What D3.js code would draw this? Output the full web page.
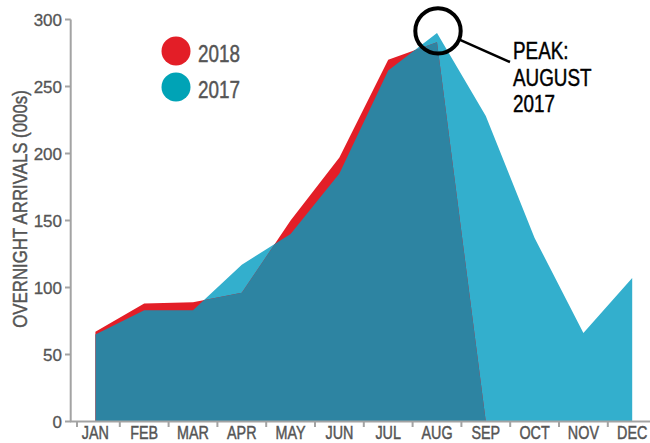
<!DOCTYPE html>
<html>
<head>
<meta charset="utf-8">
<script src="https://cdn.jsdelivr.net/npm/d3@7"></script>
<style>
  html, body { margin: 0; padding: 0; background: #fff; }
  svg { display: block; }
  text { font-family: "Liberation Sans", Arial, sans-serif; }
</style>
</head>
<body>
<svg id="chart" width="650" height="443"></svg>
<script>
const months = ["JAN","FEB","MAR","APR","MAY","JUN","JUL","AUG","SEP","OCT","NOV","DEC"];
const values2018 = [67, 88, 89, 96, 150, 197, 270, 283, 0];
const values2017 = [65, 83, 83, 117, 140, 185, 262, 290, 228, 137, 66, 107];
const yTicks = [0, 50, 100, 150, 200, 250, 300];
const seriesNames = ["2018", "2017"];
const yTitle = "OVERNIGHT ARRIVALS (000s)";
const annotationLines = ["PEAK:", "AUGUST", "2017"];
const peakMonth = "AUG";

const colors = { red: "#e31e27", light: "#33afcd", dark: "#2d84a2", legend2017: "#00a3b6", axis: "#a3a3a3", text: "#555555" };
const NARROW = 0.82;

const svg = d3.select("#chart");
const x = d3.scaleBand().domain(months).range([71, 656.6]).padding(0);
const y = d3.scaleLinear().domain([0, 300]).range([421.5, 19.5]);
const cx = m => x(m) + x.bandwidth() / 2;

function narrowText(g, tx, ty, txt, size, fill, anchor, rot) {
  return g.append("text")
    .attr("transform", `translate(${tx},${ty})${rot ? " rotate(" + rot + ")" : ""} scale(${NARROW},1)`)
    .attr("text-anchor", anchor || "start")
    .attr("font-size", size).attr("fill", fill)
    .attr("stroke", fill).attr("stroke-width", 0.45)
    .text(txt);
}

const d2018 = values2018.map((v, i) => ({ m: months[i], v }));
const d2017 = values2017.map((v, i) => ({ m: months[i], v }));

const area = d3.area().x(d => cx(d.m)).y0(y(0)).y1(d => y(d.v));

const defs = svg.append("defs");
defs.append("clipPath").attr("id", "clip2017").append("path").attr("d", area(d2017));

svg.append("path").attr("d", area(d2017)).attr("fill", colors.light);
svg.append("path").attr("d", area(d2018)).attr("fill", colors.red);
svg.append("path").attr("d", area(d2018)).attr("fill", colors.dark).attr("clip-path", "url(#clip2017)");

// Y axis
const gy = svg.append("g");
gy.append("line").attr("x1", 70.7).attr("x2", 70.7).attr("y1", y(300)).attr("y2", y(0))
  .attr("stroke", colors.axis).attr("stroke-width", 2);
yTicks.forEach(t => {
  gy.append("line").attr("x1", 65).attr("x2", 70.7).attr("y1", y(t)).attr("y2", y(t))
    .attr("stroke", colors.axis).attr("stroke-width", 2);
  gy.append("text").attr("x", 62).attr("y", y(t) + 6).attr("text-anchor", "end")
    .attr("font-size", 17).attr("fill", colors.text)
    .attr("stroke", colors.text).attr("stroke-width", 0.3).text(t);
});

// X axis
const gx = svg.append("g");
gx.append("line").attr("x1", 70).attr("x2", 650).attr("y1", y(0)).attr("y2", y(0))
  .attr("stroke", colors.axis).attr("stroke-width", 2);
months.forEach((m, i) => {
  const tx = i === 0 ? x(m) + 6 : x(m);
  gx.append("line").attr("x1", tx).attr("x2", tx).attr("y1", y(0)).attr("y2", y(0) + 5.5)
    .attr("stroke", colors.axis).attr("stroke-width", 2);
  narrowText(gx, cx(m), 439, m, 17.5, colors.text, "middle");
});

// Y title
narrowText(svg, 27, 209, yTitle, 20.5, colors.text, "middle", -90);

// Legend
const legend = svg.append("g");
[colors.red, colors.legend2017].forEach((c, i) => {
  legend.append("circle").attr("cx", 176).attr("cy", 51 + i * 36).attr("r", 14.5).attr("fill", c);
  narrowText(legend, 198, 61.5 + i * 36, seriesNames[i], 23, colors.text);
});

// Annotation
const peakV = values2017[months.indexOf(peakMonth)];
const ax = cx(peakMonth) + 1, ay = y(peakV) - 2;
svg.append("circle").attr("cx", ax).attr("cy", ay).attr("r", 22.7)
  .attr("fill", "none").attr("stroke", "#000").attr("stroke-width", 4);
svg.append("line").attr("x1", ax + 22).attr("y1", ay + 9).attr("x2", 510).attr("y2", 62)
  .attr("stroke", "#000").attr("stroke-width", 2.5);
annotationLines.forEach((t, i) => {
  narrowText(svg, 513, 59 + i * 26.5, t, 23, "#000");
});
</script>
</body>
</html>
